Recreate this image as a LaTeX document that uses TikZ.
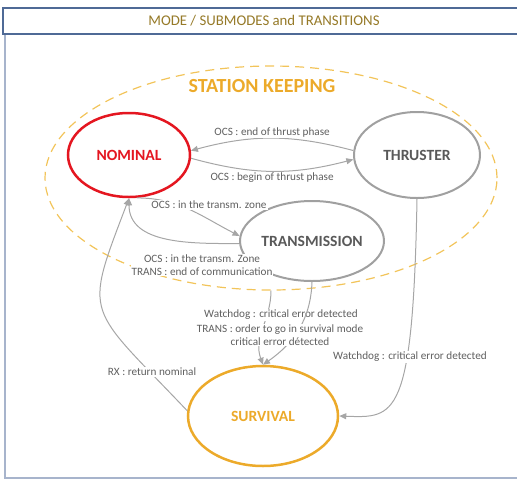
\documentclass[tikz,border=0pt]{standalone}
\usepackage{fontspec}
\setmainfont{Carlito}
\usetikzlibrary{arrows.meta}
\usetikzlibrary{shapes.geometric}

\definecolor{titlegold}{RGB}{150,122,40}
\definecolor{titleblue}{RGB}{79,106,150}
\definecolor{framegray}{RGB}{167,180,204}
\definecolor{stategray}{RGB}{160,160,160}
\definecolor{statetext}{RGB}{89,89,89}
\definecolor{linegray}{RGB}{166,166,166}
\definecolor{lbltext}{RGB}{96,96,96}
\definecolor{nomred}{RGB}{228,22,32}
\definecolor{skorange}{RGB}{236,170,42}
\definecolor{skdash}{RGB}{242,196,90}

\tikzset{
  state/.style={ellipse, draw=stategray, line width=2pt, inner sep=0pt,
    font=\fontsize{15.6}{18}\selectfont\bfseries, text=statetext},
  lbl/.style={text=lbltext, fill=white, inner sep=1pt,
    font=\fontsize{11.2}{12.5}\selectfont},
  trans/.style={draw=linegray, line width=1pt, -{Triangle[length=7pt,width=6pt]}},
}

\begin{document}
\begin{tikzpicture}[x=1pt, y=-1pt]
      \useasboundingbox (0,0) rectangle (517,480);

      % frame and title
      \draw[framegray, line width=2.5pt] (5,34) -- (5,478) -- (517,478);
      \node[draw=titleblue, line width=2pt, fill=white, minimum width=522pt, minimum height=26pt,
        text=titlegold, font=\fontsize{14.8}{17}\selectfont] (title) at (264,21) {MODE / SUBMODES and TRANSITIONS};

      % station keeping super mode
      \node[ellipse, draw=skdash, dashed, dash pattern=on 9pt off 6pt, line width=1.2pt,
        minimum width=452pt, minimum height=224pt] (sk) at (271,178) {};
      \node[text=skorange, font=\fontsize{20}{24}\selectfont\bfseries] (skname) at (262,86) {STATION KEEPING};

      % modes
      \node[state, draw=nomred, line width=2.5pt, text=nomred, minimum width=122pt, minimum height=84pt] (nom) at (129,155) {NOMINAL};
      \node[state, minimum width=126pt, minimum height=86pt] (thr) at (417,155) {THRUSTER};
      \node[state, minimum width=144pt, minimum height=80pt] (trm) at (312,241) {TRANSMISSION};
      \node[state, draw=skorange, line width=2.5pt, text=skorange, minimum width=150pt, minimum height=100pt] (sur) at (263,416) {SURVIVAL};

      % transitions
      \draw[trans] (thr.176) to[bend right=15] node[lbl, above] (l1) {OCS : end of thrust phase} (nom.4);
      \draw[trans] (nom.-3) to[bend right=15] node[lbl, below] (l2) {OCS : begin of thrust phase} (thr.-176);
      \draw[trans] (nom.-80) to[out=0, in=153] (trm.176)
        node[lbl, at={(209,205)}] (l3) {OCS : in the transm. zone};
      \draw[trans] (trm.182) to[out=180, in=-90] (nom.south)
        node[lbl, at={(202,265)}, align=center] (l4) {OCS : in the transm. Zone\\TRANS : end of communication};
      \draw[trans] (sur.176) .. controls (86,304) and (83,319) .. (nom.south)
        node[lbl, at={(152,372)}] (l5) {RX : return nominal};
      \draw[trans] (sk.south) to[out=-90, in=110] (sur.north)
        node[lbl, at={(281,315)}] (l6) {Watchdog : critical error detected};
      \draw[trans] (trm.south) to[out=-92, in=35] (sur.north)
        node[lbl, at={(280,335)}, align=center] (l7) {TRANS : order to go in survival mode\\critical error détected};
      \draw[trans] (thr.south) .. controls (413,420) and (395,418) .. (sur.east)
        node[lbl, at={(410,357)}] (l8) {Watchdog : critical error detected};
    \end{tikzpicture}
\end{document}
